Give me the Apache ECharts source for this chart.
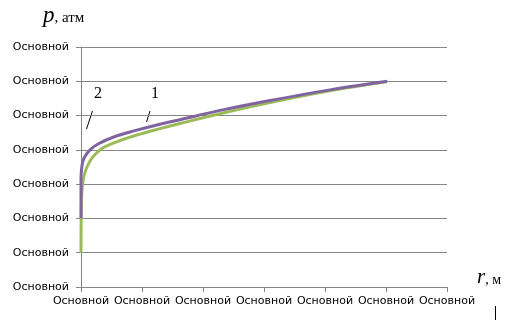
<!DOCTYPE html>
<html>
<head>
<meta charset="utf-8">
<script src="https://cdn.jsdelivr.net/npm/echarts@6/dist/echarts.min.js"></script>
<style>
  html, body { margin: 0; padding: 0; background: #fff; }
  #chart { width: 517px; height: 326px; }
</style>
</head>
<body>
<div id="chart"></div>
<script>
// axis tick labels (all the same placeholder text in the source)
const xTickLabel = 'Основной';
const yTickLabel = 'Основной';

// curve 1 (green)
const r1 = [0, 0.008, 0.025, 0.049, 0.098, 0.18, 0.344, 0.607, 0.967, 1.295, 1.623, 2.36, 3.1, 4.08, 5.02];
const p1 = [1.0, 2.54, 2.98, 3.24, 3.50, 3.76, 4.04, 4.25, 4.46, 4.62, 4.77, 5.09, 5.38, 5.72, 5.99];

// curve 2 (purple)
const r2 = [0, 0, 0.011, 0.033, 0.066, 0.148, 0.279, 0.557, 0.885, 1.213, 1.623, 2.36, 3.1, 4.08, 5.02];
const p2 = [2.01, 3.18, 3.47, 3.68, 3.81, 4.0, 4.17, 4.39, 4.56, 4.71, 4.88, 5.18, 5.44, 5.75, 6.0];

const pairs = (xs, ys) => xs.map((x, i) => [x, ys[i]]);

const chart = echarts.init(document.getElementById('chart'));

const option = {
  animation: false,
  grid: { left: 81, right: 70, top: 47, bottom: 39 },
  xAxis: {
    type: 'value',
    min: 0, max: 6, interval: 1,
    axisLine: { show: true, lineStyle: { color: '#868686', width: 1 } },
    axisTick: { show: true, length: 5, lineStyle: { color: '#868686' } },
    splitLine: { show: false },
    axisLabel: {
      formatter: () => xTickLabel,
      color: '#000',
      fontFamily: 'DejaVu Sans',
      fontSize: 11,
      margin: 9
    }
  },
  yAxis: {
    type: 'value',
    min: 0, max: 7, interval: 1,
    axisLine: { show: true, lineStyle: { color: '#868686', width: 1 } },
    axisTick: { show: true, length: 5, lineStyle: { color: '#868686' } },
    splitLine: { show: true, lineStyle: { color: '#868686', width: 1 } },
    axisLabel: {
      formatter: () => yTickLabel,
      color: '#000',
      fontFamily: 'DejaVu Sans',
      fontSize: 11,
      margin: 12
    }
  },
  series: [
    {
      name: '1',
      type: 'line',
      data: pairs(r1, p1),
      smooth: 0.35,
      showSymbol: false,
      lineStyle: { color: '#9BBB59', width: 3 },
      z: 2
    },
    {
      name: '2',
      type: 'line',
      data: pairs(r2, p2),
      smooth: 0.35,
      showSymbol: false,
      lineStyle: { color: '#8064A2', width: 3 },
      z: 3
    }
  ],
  graphic: [
    {
      type: 'text', left: 43, top: 4,
      style: {
        text: '{p|p}{u|, атм}',
        rich: {
          p: { fontFamily: 'Liberation Serif', fontStyle: 'italic', fontSize: 23, fill: '#000' },
          u: { fontFamily: 'Liberation Serif', fontSize: 15, fill: '#000', padding: [5, 0, 0, 0] }
        }
      }
    },
    {
      type: 'text', left: 477, top: 267,
      style: {
        text: '{r|r}{u|, м}',
        rich: {
          r: { fontFamily: 'Liberation Serif', fontStyle: 'italic', fontSize: 21, fill: '#000' },
          u: { fontFamily: 'Liberation Serif', fontSize: 14, fill: '#000', padding: [5, 0, 0, 0] }
        }
      }
    },
    {
      type: 'line',
      shape: { x1: 495.5, y1: 306, x2: 495.5, y2: 320 },
      style: { stroke: '#000', lineWidth: 1 }
    },
    {
      type: 'text', left: 94, top: 86,
      style: { text: '2', fontFamily: 'Liberation Serif', fontSize: 16, fill: '#000' }
    },
    {
      type: 'text', left: 151, top: 86,
      style: { text: '1', fontFamily: 'Liberation Serif', fontSize: 16, fill: '#000' }
    },
    {
      type: 'line',
      shape: { x1: 86.5, y1: 129, x2: 92.5, y2: 111 },
      style: { stroke: '#000', lineWidth: 1 }
    },
    {
      type: 'line',
      shape: { x1: 146.5, y1: 122, x2: 150, y2: 111 },
      style: { stroke: '#000', lineWidth: 1 }
    }
  ]
};

chart.setOption(option);
window.addEventListener('resize', () => {
  chart.resize();
});
</script>
</body>
</html>
